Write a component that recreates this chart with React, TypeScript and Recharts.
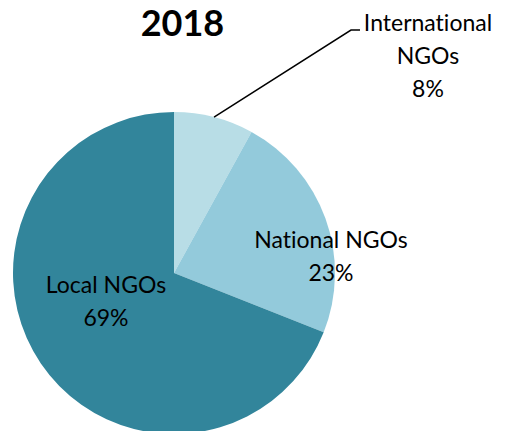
import React from "react";
import { PieChart, Pie, Cell } from "recharts";

const categories = ["International NGOs", "National NGOs", "Local NGOs"];
const values = [8, 23, 69];
const labelLines = [["International", "NGOs", "8%"], ["National NGOs", "23%"], ["Local NGOs", "69%"]];
const title = "2018";

const colors = ["#b8dde6", "#93cadb", "#32859b"];
const FONT = "Lato, 'Open Sans', sans-serif";
const TXT: React.CSSProperties = { fontVariantLigatures: "none" };

const data = categories.map((name, i) => ({ name, value: values[i], lines: labelLines[i] }));

const RAD = Math.PI / 180;

const renderLabel = (props: any) => {
  const { cx, cy, midAngle, outerRadius, index } = props;
  const lines: string[] = data[index].lines;
  if (index === 0) {
    const sx = cx + outerRadius * Math.cos(-midAngle * RAD);
    const sy = cy + outerRadius * Math.sin(-midAngle * RAD);
    const ex = cx + 177;
    const ey = cy - 243;
    return (
      <g>
        <polyline points={`${sx},${sy} ${ex},${ey} ${ex + 9},${ey}`} fill="none" stroke="#000" strokeWidth={1.5} />
        {lines.map((t, k) => (
          <text key={k} x={cx + 254} y={cy - 251 + k * 33} textAnchor="middle" dominantBaseline="central" fontFamily={FONT} fontSize={23} fill="#000" style={TXT}>
            {t}
          </text>
        ))}
      </g>
    );
  }
  const pos = index === 1 ? { x: cx + 157, y: cy - 34 } : { x: cx - 68, y: cy + 11 };
  return (
    <g>
      {lines.map((t, k) => (
        <text key={k} x={pos.x} y={pos.y + k * 33} textAnchor="middle" dominantBaseline="central" fontFamily={FONT} fontSize={23} fill="#000" style={TXT}>
          {t}
        </text>
      ))}
    </g>
  );
};

export default function App() {
  return (
    <div style={{ position: "absolute", left: 0, top: 0, width: 506, height: 431, background: "#fff", overflow: "hidden" }}>
      <div style={{ position: "absolute", left: 0, width: 365, top: 0, textAlign: "center", fontFamily: FONT, fontWeight: 700, fontSize: 36, lineHeight: "normal", color: "#000" }}>
        {title}
      </div>
      <PieChart width={506} height={431} margin={{ top: 0, right: 0, bottom: 0, left: 0 }} style={{ position: "absolute", left: 0, top: 0 }}>
        <Pie
          data={data}
          dataKey="value"
          nameKey="name"
          cx={174}
          cy={273}
          outerRadius={161}
          startAngle={90}
          endAngle={-270}
          stroke="none"
          isAnimationActive={false}
          label={renderLabel}
          labelLine={false}
        >
          {data.map((d, i) => (
            <Cell key={d.name} fill={colors[i]} />
          ))}
        </Pie>
      </PieChart>
    </div>
  );
}
